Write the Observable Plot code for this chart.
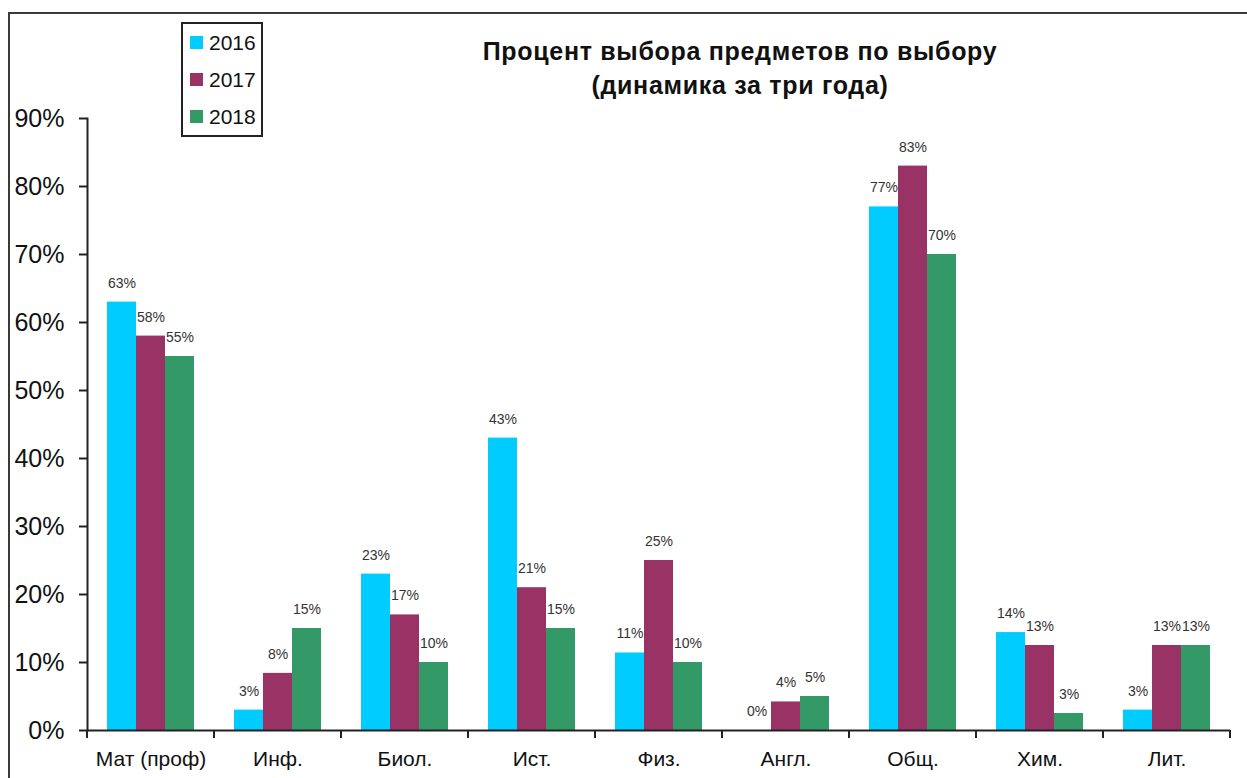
<!DOCTYPE html>
<html>
<head>
<meta charset="utf-8">
<script src="https://cdn.jsdelivr.net/npm/d3@7"></script>
<script src="https://cdn.jsdelivr.net/npm/@observablehq/plot@0.6"></script>
<style>
html, body { margin: 0; padding: 0; background: #fff; overflow: hidden; }
#wrap { position: relative; width: 1247px; height: 778px; font-family: "Liberation Sans", Arial, sans-serif; }
#border { position: absolute; left: 8px; top: 12px; width: 1400px; height: 1000px; border: 2px solid #3a3a3a; box-sizing: border-box; }
#chart { position: absolute; left: 0; top: 0; }
#title { position: absolute; left: 440px; top: 34px; width: 600px; text-align: center; font-weight: bold; font-size: 25px; line-height: 34px; color: #111; letter-spacing: 0.7px;
  font-family: "Liberation Sans Narrow", "Arial Narrow", "Liberation Sans", Arial, sans-serif; }
#legend { position: absolute; left: 181px; top: 22px; width: 82px; height: 115px; box-sizing: border-box; border: 2px solid #222; background: #fff; padding: 0 0 0 7px; }
.item { height: 37px; display: flex; align-items: center; font-size: 21px; color: #111; }
.sw { width: 13px; height: 13px; margin-right: 6px; }
</style>
</head>
<body>
<div id="wrap">
  <div id="border"></div>
  <div id="chart"></div>
  <div id="title">Процент выбора предметов по выбору<br>(динамика за три года)</div>
  <div id="legend"></div>
</div>
<script>
// ---- data ----
const subjects = ["Мат (проф)", "Инф.", "Биол.", "Ист.", "Физ.", "Англ.", "Общ.", "Хим.", "Лит."];
const years = ["2016", "2017", "2018"];
const values2016 = [63, 3, 23, 43, 11.4, 0, 77, 14.4, 3];
const values2017 = [58, 8.4, 17, 21, 25, 4.2, 83, 12.5, 12.5];
const values2018 = [55, 15, 10, 15, 10, 5, 70, 2.5, 12.5];
const yearColors = ["#00CCFF", "#993366", "#339966"];
const yTicks = [0, 10, 20, 30, 40, 50, 60, 70, 80, 90];

const series = [values2016, values2017, values2018];
const data = subjects.flatMap((s, i) => years.map((y, j) => ({subject: s, year: y, value: series[j][i]})));

const plot = Plot.plot({
  width: 1247,
  height: 778,
  marginLeft: 85,
  marginRight: 15,
  marginTop: 118,
  marginBottom: 48,
  style: {fontFamily: '"Liberation Sans", Arial, sans-serif', background: "transparent", overflow: "visible"},
  fx: {domain: subjects, padding: 0, label: null},
  x: {domain: years, paddingInner: 0, paddingOuter: 0.66, axis: null},
  y: {domain: [0, 90], label: null},
  color: {domain: years, range: yearColors},
  marks: [
    Plot.barY(data, {fx: "subject", x: "year", y: "value", fill: "year"}),
    Plot.text(data, {fx: "subject", x: "year", y: "value", text: d => Math.round(d.value) + "%", dy: -19, fontSize: 14, fill: "#333"}),
    Plot.ruleY([0], {stroke: "#222", strokeWidth: 2}),
    Plot.frame({anchor: "left", facetAnchor: "left", stroke: "#222", strokeWidth: 2}),
    Plot.axisY({ticks: yTicks, tickFormat: d => d + "%", tickSize: 8, tickPadding: 15, fontSize: 25, strokeWidth: 2, stroke: "#222", fill: "#111", label: null}),
    Plot.axisFx({anchor: "bottom", tickSize: 0, tickPadding: 21, fontSize: 21, fill: "#111", label: null})
  ]
});

// category boundary ticks below the x axis, positioned with the fx scale
const fx = plot.scale("fx");
const yS = plot.scale("y");
const y0 = yS.apply(0);
const bounds = subjects.map(s => fx.apply(s)).concat([fx.apply(subjects[subjects.length - 1]) + fx.bandwidth]);
d3.select(plot).append("g").selectAll("line").data(bounds).join("line")
  .attr("x1", d => d).attr("x2", d => d)
  .attr("y1", y0).attr("y2", y0 + 8)
  .attr("stroke", "#222").attr("stroke-width", 2);

document.getElementById("chart").appendChild(plot);

// legend
const legend = document.getElementById("legend");
years.forEach((y, i) => {
  const it = document.createElement("div");
  it.className = "item";
  const sw = document.createElement("span");
  sw.className = "sw";
  sw.style.background = yearColors[i];
  it.appendChild(sw);
  it.appendChild(document.createTextNode(y));
  legend.appendChild(it);
});
</script>
</body>
</html>
